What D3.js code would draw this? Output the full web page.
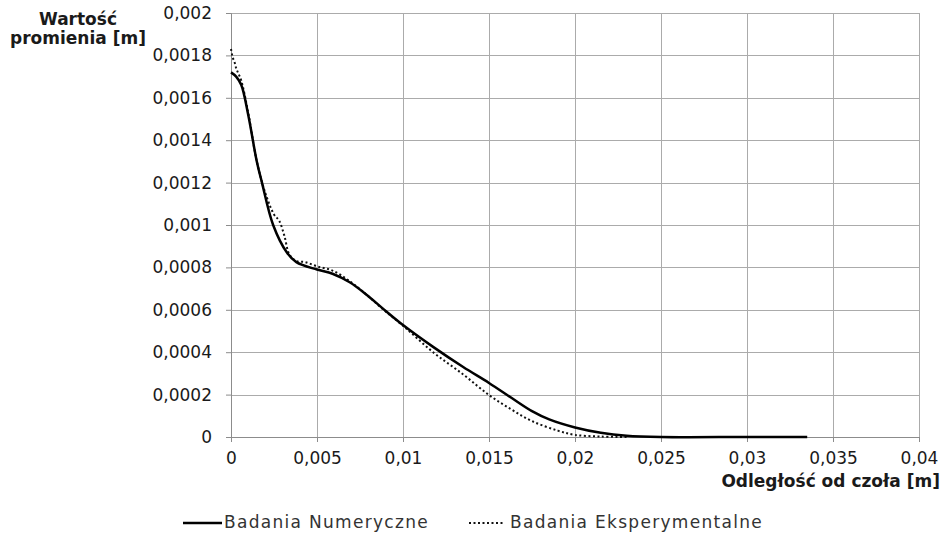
<!DOCTYPE html>
<html>
<head>
<meta charset="utf-8">
<script src="https://cdn.jsdelivr.net/npm/d3@7"></script>
<style>
    body { margin: 0; background: #fff; }
    #chart { width: 946px; height: 534px; }
    text { font-family: "DejaVu Sans", sans-serif; fill: #1a1a1a; }
    .axis-title { font-size: 17px; font-weight: bold; }
    .legend-text { font-size: 17px; fill: #333; letter-spacing: 1.3px; }
    .grid line { stroke: #ababab; stroke-width: 1; }
</style>
</head>
<body>
<div id="chart"></div>
<script>
// numerical results (solid)
const numX = [0, 0.0003, 0.0006, 0.001, 0.0015, 0.0018, 0.00245, 0.00325, 0.0038, 0.005, 0.0059, 0.0069, 0.0079, 0.0088, 0.01, 0.01175, 0.0135, 0.015, 0.0163, 0.0175, 0.0185, 0.02, 0.0215, 0.023, 0.025, 0.03, 0.0335];
const numY = [0.00172, 0.0017, 0.00166, 0.00152, 0.0013, 0.0012, 0.001, 0.00087, 0.000825, 0.00079, 0.00077, 0.00073, 0.00067, 0.000608, 0.000528, 0.000425, 0.00033, 0.000255, 0.000185, 0.000122, 0.000083, 0.000045, 0.00002, 0.000006, 0, 0, 0];

// experimental results (dotted)
const expX = [0, 0.0001, 0.0002, 0.0003, 0.0004, 0.0006, 0.001, 0.0015, 0.002, 0.0025, 0.0028, 0.0031, 0.0034, 0.0038, 0.0043, 0.005, 0.0059, 0.0069, 0.0079, 0.0088, 0.01, 0.01175, 0.0135, 0.015, 0.0163, 0.0175, 0.019, 0.02, 0.0215, 0.023];
const expY = [0.00183, 0.00179, 0.00177, 0.00174, 0.00172, 0.00168, 0.00153, 0.0013, 0.00115, 0.00105, 0.00102, 0.00095, 0.00086, 0.00083, 0.000825, 0.000805, 0.000785, 0.000735, 0.00067, 0.000605, 0.000525, 0.0004, 0.000295, 0.000198, 0.00013, 0.000075, 0.00003, 0.00001, 0.000002, 0];

const xTicks = [0, 0.005, 0.01, 0.015, 0.02, 0.025, 0.03, 0.035, 0.04];
const xTickLabels = ["0", "0,005", "0,01", "0,015", "0,02", "0,025", "0,03", "0,035", "0,04"];
const yTicks = [0, 0.0002, 0.0004, 0.0006, 0.0008, 0.001, 0.0012, 0.0014, 0.0016, 0.0018, 0.002];
const yTickLabels = ["0", "0,0002", "0,0004", "0,0006", "0,0008", "0,001", "0,0012", "0,0014", "0,0016", "0,0018", "0,002"];

const seriesNames = ["Badania Numeryczne", "Badania Eksperymentalne"];

function renderChart() {
    const width = 946;
    const height = 534;
    const left = 231, right = 919, top = 13, bottom = 437;

    const svg = d3.select("#chart").append("svg")
        .attr("width", width)
        .attr("height", height);

    const xScale = d3.scaleLinear().domain([0, 0.04]).range([left, right]);
    const yScale = d3.scaleLinear().domain([0, 0.002]).range([bottom, top]);

    // grid
    svg.append("g")
        .attr("class", "grid")
        .selectAll("line")
        .data(yTicks.slice(1))
        .join("line")
        .attr("x1", left).attr("x2", right)
        .attr("y1", d => Math.round(yScale(d)) + 0.5)
        .attr("y2", d => Math.round(yScale(d)) + 0.5);
    svg.append("g")
        .attr("class", "grid")
        .selectAll("line")
        .data(xTicks.slice(1))
        .join("line")
        .attr("x1", d => Math.round(xScale(d)) + 0.5)
        .attr("x2", d => Math.round(xScale(d)) + 0.5)
        .attr("y1", top).attr("y2", bottom);

    // add x-axis
    const xAxis = svg.append("g")
        .attr("transform", `translate(0, ${bottom})`)
        .call(d3.axisBottom(xScale).tickValues(xTicks).tickSize(5).tickPadding(10)
            .tickFormat((d, i) => xTickLabels[i]));
    // add y-axis
    const yAxis = svg.append("g")
        .attr("transform", `translate(${left}, 0)`)
        .call(d3.axisLeft(yScale).tickValues(yTicks).tickSize(5).tickPadding(14)
            .tickFormat((d, i) => yTickLabels[i]));

    [xAxis, yAxis].forEach(function (ax) {
        ax.select(".domain").attr("stroke", "#8c8c8c");
        ax.selectAll(".tick line").attr("stroke", "#8c8c8c");
        ax.selectAll(".tick text")
            .style("font-family", "'DejaVu Sans', sans-serif")
            .style("font-size", "17px")
            .attr("fill", "#404040");
    });

    // axis titles
    svg.append("text")
        .attr("class", "axis-title")
        .attr("x", 78).attr("y", 25)
        .attr("text-anchor", "middle")
        .text("Wartość");
    svg.append("text")
        .attr("class", "axis-title")
        .attr("x", 78).attr("y", 44)
        .attr("text-anchor", "middle")
        .text("promienia [m]");
    svg.append("text")
        .attr("class", "axis-title")
        .attr("x", 940).attr("y", 487)
        .attr("text-anchor", "end")
        .text("Odległość od czoła [m]");

    const line = d3.line()
        .x(d => xScale(d[0]))
        .y(d => yScale(d[1]))
        .curve(d3.curveCatmullRom.alpha(0.5));

    const numData = numX.map((x, i) => [x, numY[i]]);
    const expData = expX.map((x, i) => [x, expY[i]]);

    svg.append("path")
        .datum(expData)
        .attr("fill", "none")
        .attr("stroke", "#111")
        .attr("stroke-width", 2)
        .attr("stroke-dasharray", "2,2.5")
        .attr("d", line);

    svg.append("path")
        .datum(numData)
        .attr("fill", "none")
        .attr("stroke", "#000")
        .attr("stroke-width", 2.5)
        .attr("d", line);

    // legend
    const legendY = 528;
    svg.append("line")
        .attr("x1", 183).attr("x2", 222)
        .attr("y1", legendY - 5).attr("y2", legendY - 5)
        .attr("stroke", "#000").attr("stroke-width", 2.5);
    svg.append("text")
        .attr("class", "legend-text")
        .attr("x", 224).attr("y", legendY)
        .text(seriesNames[0]);
    svg.append("line")
        .attr("x1", 469).attr("x2", 505)
        .attr("y1", legendY - 5).attr("y2", legendY - 5)
        .attr("stroke", "#111").attr("stroke-width", 2)
        .attr("stroke-dasharray", "2,2.5");
    svg.append("text")
        .attr("class", "legend-text")
        .attr("x", 510).attr("y", legendY)
        .text(seriesNames[1]);
}

renderChart();
</script>
</body>
</html>
